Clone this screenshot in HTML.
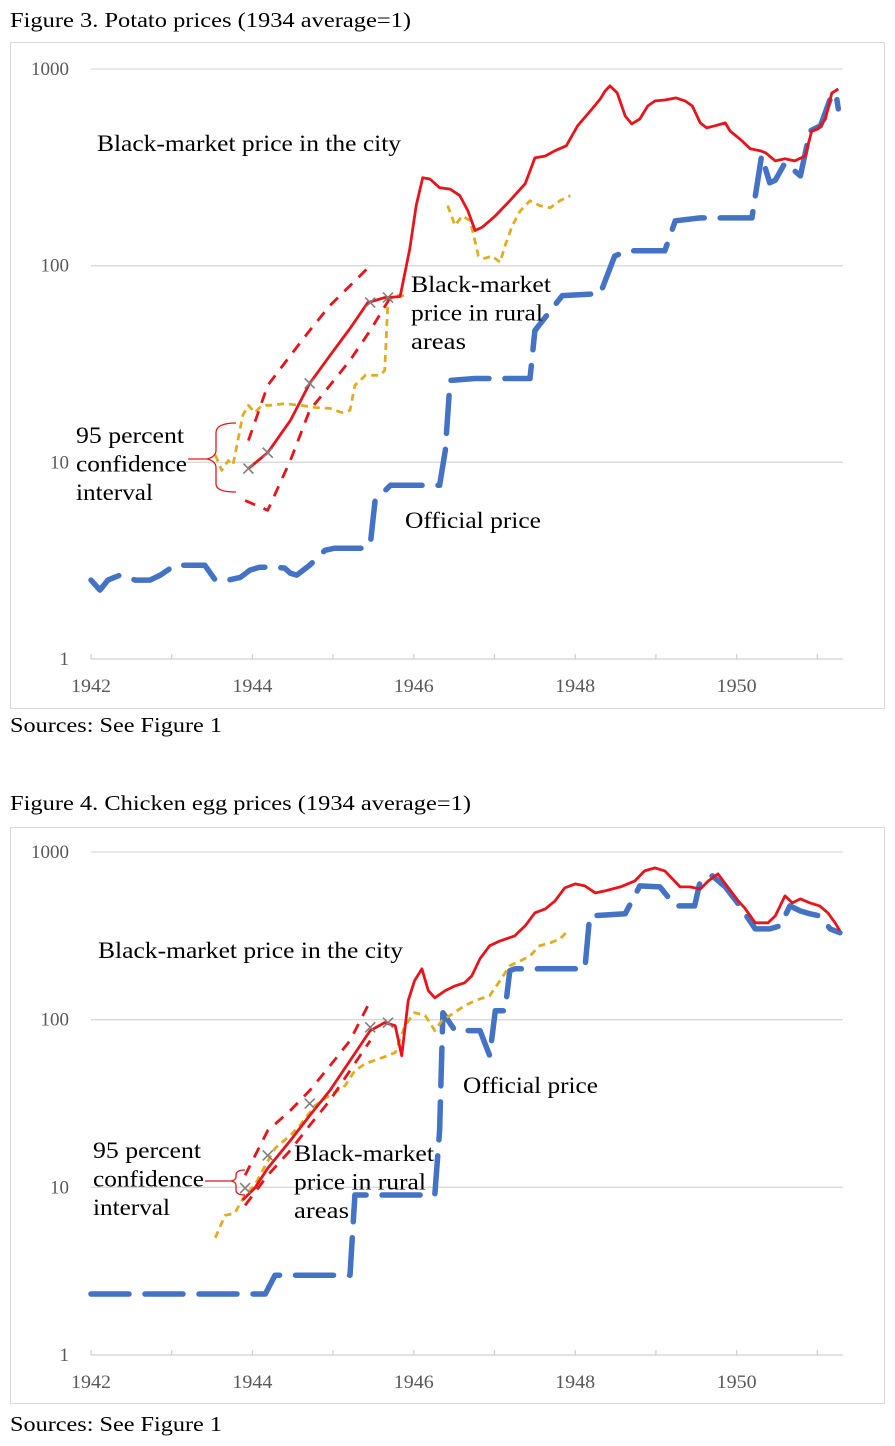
<!DOCTYPE html>
<html><head><meta charset="utf-8">
<style>
body{margin:0;background:#fff;width:895px;height:1446px;overflow:hidden;font-family:"Liberation Serif",serif;}
svg{position:absolute;left:0;top:0}
</style></head>
<body>
<svg id="s" width="895" height="1446" xmlns="http://www.w3.org/2000/svg">
<text x="10" y="27" font-size="21" fill="#000" textLength="401" lengthAdjust="spacingAndGlyphs">Figure 3. Potato prices (1934 average=1)</text>
<rect x="10.5" y="42.5" width="874" height="666" fill="none" stroke="#d9d9d9"/>
<text x="10" y="732" font-size="21" textLength="212" lengthAdjust="spacingAndGlyphs">Sources: See Figure 1</text>
<text x="10" y="810" font-size="21" textLength="461" lengthAdjust="spacingAndGlyphs">Figure 4. Chicken egg prices (1934 average=1)</text>
<rect x="10.5" y="827.5" width="874" height="576" fill="none" stroke="#d9d9d9"/>
<text x="10" y="1431" font-size="21" textLength="212" lengthAdjust="spacingAndGlyphs">Sources: See Figure 1</text>
<g id="c1"></g>
<g id="c2"></g>
</svg>
<script>
// ---- Figure 3 data (potato) ----
const yearTicks = [1942, 1944, 1946, 1948, 1950];
const yTickLabels = ["1", "10", "100", "1000"];
const p_cityYears = [1943.95,1944.19,1944.47,1944.71,1944.96,1945.21,1945.43,1945.64,1945.83,1945.95,1946.03,1946.11,1946.20,1946.32,1946.45,1946.57,1946.67,1946.76,1946.85,1947.01,1947.19,1947.38,1947.50,1947.63,1947.75,1947.89,1948.03,1948.21,1948.31,1948.37,1948.43,1948.52,1948.62,1948.70,1948.80,1948.90,1948.99,1949.11,1949.25,1949.36,1949.45,1949.55,1949.63,1949.73,1949.86,1949.92,1950.04,1950.17,1950.29,1950.36,1950.48,1950.60,1950.72,1950.85,1950.93,1951.01,1951.10,1951.18,1951.26];
const p_cityValues = [9.3,11.2,16.3,25.2,34.9,47.9,64.9,68.8,69.6,122,202,280,276,249,245,227,190,151,157,179,214,261,353,361,384,407,514,627,704,773,820,756,577,526,557,649,688,696,713,688,649,532,502,514,532,484,441,393,384,375,341,350,341,361,484,496,557,755,791];
const p_ciYears = [1943.95,1944.19,1944.47,1944.71,1944.96,1945.21,1945.46];
const p_ciUpper = [12.9,24.6,34.9,46.8,62.7,79.1,100];
const p_ciLowYears = [1943.91,1944.19,1944.47,1944.71,1944.96,1945.21,1945.46,1945.70];
const p_ciLower = [6.4,5.7,10.2,18.4,24.6,33,46.8,68];
const p_markYears = [1943.95,1944.19,1944.71,1945.46,1945.68];
const p_markValues = [9.3,11.2,25.2,64.9,68.8];
const p_rural1Years = [1943.54,1943.62,1943.70,1943.76,1943.82,1943.88,1943.95,1944.03,1944.12,1944.22,1944.40,1944.59,1944.78,1944.96,1945.11,1945.21,1945.27,1945.40,1945.58,1945.64,1945.68,1945.77,1945.89];
const p_rural1Values = [10.9,9.1,10.2,9.7,12.9,17.3,19.5,17.9,19.5,19.5,19.9,19.5,19.0,18.8,17.9,18.4,24.6,27.7,27.7,29.3,66.4,70.4,70.4];
const p_rural2Years = [1946.42,1946.51,1946.60,1946.70,1946.80,1946.88,1946.97,1947.07,1947.13,1947.22,1947.32,1947.44,1947.56,1947.69,1947.81,1947.94];
const p_rural2Values = [202,160,179,169,112,109,112,104,126,160,190,214,202,197,214,227];
const p_offYears = [1942,1942.11,1942.21,1942.36,1942.55,1942.73,1942.86,1943.04,1943.23,1943.41,1943.54,1943.70,1943.85,1943.97,1944.09,1944.28,1944.40,1944.47,1944.55,1944.71,1944.90,1945.02,1945.36,1945.46,1945.52,1945.71,1946.14,1946.32,1946.39,1946.45,1946.76,1947.44,1947.50,1947.84,1948.31,1948.49,1948.65,1949.11,1949.24,1949.55,1950.19,1950.31,1950.41,1950.48,1950.60,1950.72,1950.79,1950.91,1951.04,1951.16,1951.23,1951.26];
const p_offValues = [2.52,2.24,2.52,2.67,2.52,2.52,2.67,3.0,3.0,3.0,2.52,2.52,2.6,2.83,2.93,2.93,2.90,2.73,2.67,3.0,3.57,3.66,3.66,3.79,6.4,7.64,7.64,7.64,11.5,26.1,26.7,26.7,46.8,70.4,72,112,119,119,169,175,175,362,264,272,333,303,286,484,514,704,755,627];
// ---- Figure 4 data (eggs) ----
const e_cityYears = [1943.88,1944.03,1944.19,1944.47,1944.71,1944.96,1945.21,1945.46,1945.64,1945.77,1945.85,1945.93,1946.01,1946.10,1946.18,1946.26,1946.39,1946.51,1946.63,1946.72,1946.82,1946.94,1947.07,1947.25,1947.38,1947.50,1947.63,1947.75,1947.87,1948.00,1948.12,1948.25,1948.37,1948.56,1948.74,1948.86,1948.99,1949.11,1949.17,1949.30,1949.42,1949.55,1949.65,1949.77,1949.89,1950.02,1950.10,1950.23,1950.39,1950.48,1950.60,1950.69,1950.79,1950.91,1951.03,1951.13,1951.22,1951.28];
const e_cityValues = [8.4,9.9,13.0,19.0,26.8,37.8,57,86,96,92,61,130,171,201,149,135,149,159,166,183,231,276,295,316,363,434,458,511,611,645,628,570,586,619,672,771,804,771,720,619,619,602,672,740,619,511,464,378,378,416,547,497,525,497,477,434,378,339];
const e_ciYears = [1943.91,1944.19,1944.47,1944.71,1944.96,1945.21,1945.43];
const e_ciUpper = [11.8,21.8,28.7,37.8,53,75,121];
const e_ciLowYears = [1943.91,1944.19,1944.47,1944.71,1944.96,1945.21,1945.46];
const e_ciLower = [7.8,11.8,16.6,23.4,33,49.7,75];
const e_markYears = [1943.91,1944.19,1944.71,1945.46,1945.68];
const e_markValues = [9.9,15.5,31.6,90,96];
const e_ruralYears = [1943.54,1943.66,1943.78,1943.91,1944.03,1944.16,1944.28,1944.47,1944.59,1944.78,1944.90,1945.02,1945.15,1945.27,1945.40,1945.58,1945.77,1945.89,1946.01,1946.14,1946.26,1946.35,1946.45,1946.63,1946.76,1946.94,1947.07,1947.19,1947.32,1947.44,1947.56,1947.69,1947.81,1947.91];
const e_ruralValues = [5.0,6.8,7.0,9.0,10.3,13.5,17.1,20.4,23.4,30.8,33.9,36.8,40.5,49.7,54.7,58.6,63.6,92,110,106,86,99,106,121,130,139,171,210,224,240,276,287,303,339];
const e_offYears = [1942,1944.16,1944.28,1945.21,1945.27,1946.26,1946.32,1946.36,1946.51,1946.82,1946.94,1947.01,1947.13,1947.19,1947.25,1948.12,1948.18,1948.62,1948.80,1949.05,1949.24,1949.48,1949.55,1949.70,1949.86,1950.04,1950.23,1950.41,1950.54,1950.66,1950.79,1950.91,1951.03,1951.16,1951.28];
const e_offValues = [2.31,2.31,2.99,2.99,9.0,9.0,21.8,110,86,86,61,113,113,196,201,201,416,428,628,619,477,477,672,720,619,477,348,348,363,477,445,428,416,348,330];

const NS = "http://www.w3.org/2000/svg";
function mk(parent, tag, attrs){const e=document.createElementNS(NS,tag);for(const k in attrs)e.setAttribute(k,attrs[k]);parent.appendChild(e);return e;}
function makeChart(g, top1000, bottom1){
  const x0=91, pxYear=80.7, xEnd=843;
  const dec=(bottom1-top1000)/3;
  const X=y=>x0+(y-1942)*pxYear;
  const Y=v=>bottom1-Math.log10(v)*dec;
  for(let i=1;i<4;i++){
    const l=mk(g,'line',{x1:x0,x2:xEnd,y1:Y(Math.pow(10,i)),y2:Y(Math.pow(10,i)),stroke:'#d9d9d9','stroke-width':1.3});
    
    
  }
  const ax=mk(g,'line',{x1:x0,x2:xEnd,y1:bottom1,y2:bottom1,stroke:'#d0d0d0','stroke-width':1.3});
  
  
  for(let yr=1942;yr<=1951;yr++){
    const t=mk(g,'line',{x1:X(yr),x2:X(yr),y1:bottom1,y2:bottom1-5,stroke:'#d0d0d0','stroke-width':1.3});
    
    
  }
  yearTicks.forEach(yr=>{
    const t=mk(g,'text',{x:X(yr),y:bottom1+33,'font-size':19,fill:'#595959','text-anchor':'middle',textLength:40,lengthAdjust:'spacingAndGlyphs'});
    t.textContent=yr;
    
    
  });
  yTickLabels.forEach((lab,i)=>{
    const t=mk(g,'text',{x:69,y:Y(Math.pow(10,i))+6,'font-size':19,fill:'#595959','text-anchor':'end'});
    t.textContent=lab;
    
    
  });
  return {X,Y};
}
function line(g,ax,xs,vs,style,name){
  const d=xs.map((x,i)=>(i?'L':'M')+ax.X(x).toFixed(1)+','+ax.Y(vs[i]).toFixed(1)).join('');
  const p=mk(g,'path',Object.assign({d:d,fill:'none','stroke-linejoin':'round'},style));
  
  
}
function marks(g,ax,xs,vs){
  xs.forEach((x,i)=>{
    const cx=ax.X(x),cy=ax.Y(vs[i]);
    const p=mk(g,'path',{d:`M${cx-5},${cy-5}L${cx+5},${cy+5}M${cx-5},${cy+5}L${cx+5},${cy-5}`,stroke:'#7f7f7f','stroke-width':1.6});
    
    
  });
}
function label(g,x,y,lines,widths,name){
  const t=mk(g,'text',{x:x,y:y,'font-size':23,fill:'#000'});
  lines.forEach((l,i)=>{const s=mk(t,'tspan',{x:x,y:y+i*28.5,textLength:widths[i],lengthAdjust:'spacingAndGlyphs'});s.textContent=l;});
  
  
}
const red={stroke:'#e8141c','stroke-width':2.8};
const redD={stroke:'#e8141c','stroke-width':2.8,'stroke-dasharray':'11 9'};
const yel={stroke:'#e0ad22','stroke-width':2.8,'stroke-dasharray':'7 5'};
const blu={stroke:'#4472c4','stroke-width':5.5,'stroke-dasharray':'38 16','stroke-linecap':'round'};

const g1=document.getElementById('c1');
const a1=makeChart(g1,69,659);
line(g1,a1,p_offYears,p_offValues,blu,'official-price-line');
line(g1,a1,p_rural1Years,p_rural1Values,yel,'rural-price-line-1');
line(g1,a1,p_rural2Years,p_rural2Values,yel,'rural-price-line-2');
line(g1,a1,p_ciYears,p_ciUpper,redD,'ci-upper-line');
line(g1,a1,p_ciLowYears,p_ciLower,redD,'ci-lower-line');
line(g1,a1,p_cityYears,p_cityValues,red,'city-price-line');
marks(g1,a1,p_markYears,p_markValues);
label(g1,97,151,['Black-market price in  the city'],[304],'city-price-label');
label(g1,411,292,['Black-market','price in rural','areas'],[140,132,55],'rural-price-label');
label(g1,405,528,['Official price'],[136],'official-price-label');
label(g1,76,443,['95 percent','confidence','interval'],[108,111,77],'ci-label');
const b1=mk(g1,'path',{d:'M236,423 Q216,423 216,433 L216,450 Q216,457 207,459 L188,459 M207,459 Q216,461 216,468 L216,484 Q216,492 236,492',fill:'none',stroke:'#e8141c','stroke-width':1.3});



const g2=document.getElementById('c2');
const a2=makeChart(g2,852,1355);
line(g2,a2,e_offYears,e_offValues,blu,'official-price-line');
line(g2,a2,e_ruralYears,e_ruralValues,yel,'rural-price-line');
line(g2,a2,e_ciYears,e_ciUpper,redD,'ci-upper-line');
line(g2,a2,e_ciLowYears,e_ciLower,redD,'ci-lower-line');
line(g2,a2,e_cityYears,e_cityValues,red,'city-price-line');
marks(g2,a2,e_markYears,e_markValues);
label(g2,98,958,['Black-market price in  the city'],[305],'city-price-label');
label(g2,294,1161,['Black-market','price in rural','areas'],[140,132,55],'rural-price-label');
label(g2,463,1093,['Official price'],[135],'official-price-label');
label(g2,93,1158,['95 percent','confidence','interval'],[108,111,77],'ci-label');
const b2=mk(g2,'path',{d:'M245,1170 Q236,1170 236,1175 L236,1177 Q236,1180 231,1181 L205,1181 M231,1181 Q236,1182 236,1185 L236,1190 Q236,1195 245,1195',fill:'none',stroke:'#e8141c','stroke-width':1.3});


</script>
</body></html>
